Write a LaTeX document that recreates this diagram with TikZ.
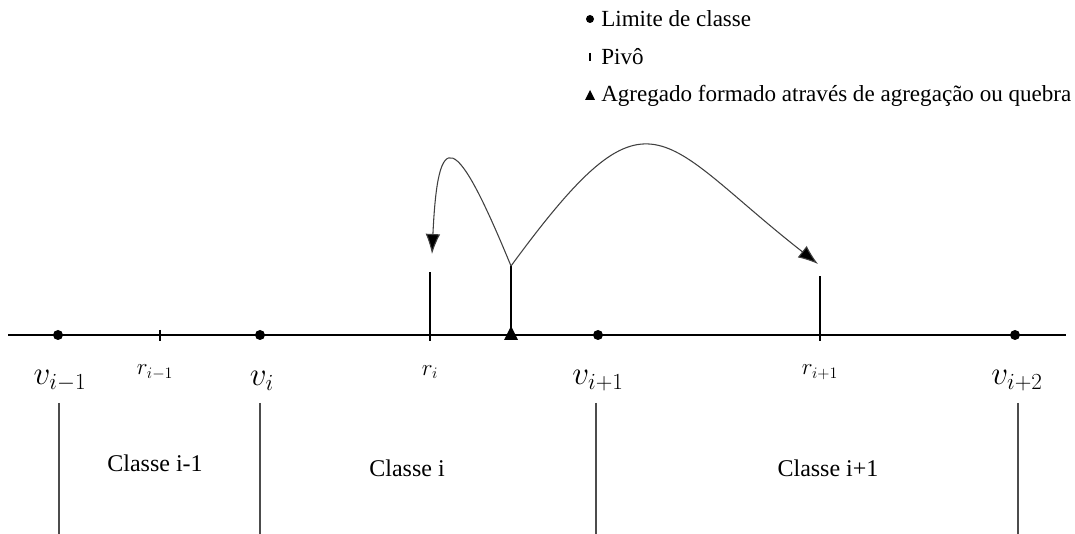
\documentclass[tikz,border=0pt]{standalone}
\usepackage{fontspec}
\setmainfont{Liberation Serif}
\usetikzlibrary{arrows.meta,shapes.geometric}
\begin{document}
\begin{tikzpicture}[x=0.75pt,y=-0.75pt,
  dotm/.style={circle,fill=black,inner sep=0pt,minimum size=7.5pt},
  vlab/.style={font=\rmfamily\fontsize{23}{27}\selectfont,inner sep=0pt},
  rlab/.style={font=\rmfamily\fontsize{18}{21}\selectfont,inner sep=0pt},
  clab/.style={font=\rmfamily\fontsize{18}{22}\selectfont,inner sep=0pt},
  leg/.style={font=\rmfamily\fontsize{17.3}{21}\selectfont,inner sep=0pt,anchor=west},
  thin line/.style={line width=0.8pt},
  jump/.style={line width=0.8pt,draw=black!75,-{Latex[length=15pt,width=11pt,fill=black]}}]
\useasboundingbox (0,0) rectangle (1075,534);
% axis
\coordinate (axL) at (8,335);
\coordinate (axR) at (1066,335);
\draw[line width=1.6pt] (axL) -- (axR);
% class limits
\node[dotm] (v1) at (58,335) {};
\node[dotm] (v2) at (260,335) {};
\node[dotm] (v3) at (598,335) {};
\node[dotm] (v4) at (1015,335) {};
% pivots
\coordinate (r0) at (160,335);
\draw[thin line] (160,330) -- (160,341);
\coordinate (ri) at (430,341);
\coordinate (riT) at (430,272);
\draw[thin line] (ri) -- (riT);
\coordinate (rj) at (820,341);
\coordinate (rjT) at (820,276);
\draw[thin line] (rj) -- (rjT);
% aggregate
\coordinate (agT) at (511,266);
\coordinate (ag) at (511,335);
\draw[thin line] (ag) -- (agT);
\fill ([shift={(0,-9)}]ag) -- ([shift={(-7,5)}]ag) -- ([shift={(7,5)}]ag) -- cycle;
% arrows
\coordinate (tipA) at (432,254);
\coordinate (tipB) at (818,264);
\draw[jump] (agT) .. controls (455,130) and (438,125) .. (tipA);
\draw[jump] (agT) .. controls (651,75) and (657,138) .. (tipB);
% labels
\node[vlab] (lv1) at (60,381) {$v_{i-1}$};
\node[rlab] (lr0) at (155,372) {$r_{i-1}$};
\node[vlab] (lv2) at (262,381) {$v_{i}$};
\node[rlab] (lri) at (430,372) {$r_{i}$};
\node[vlab] (lv3) at (598,381) {$v_{i+1}$};
\node[rlab] (lrj) at (820,372) {$r_{i+1}$};
\node[vlab] (lv4) at (1017,381) {$v_{i+2}$};
% lower dividers
\coordinate (b1t) at (59,403); \coordinate (b1b) at (59,534);
\coordinate (b2t) at (260,403); \coordinate (b2b) at (260,534);
\coordinate (b3t) at (596,403); \coordinate (b3b) at (596,534);
\coordinate (b4t) at (1018,403); \coordinate (b4b) at (1018,534);
\draw[thin line,black!70] (b1t) -- (b1b);
\draw[thin line,black!70] (b2t) -- (b2b);
\draw[thin line,black!70] (b3t) -- (b3b);
\draw[thin line,black!70] (b4t) -- (b4b);
\node[clab] (c1) at (155,463) {Classe i-1};
\node[clab] (c2) at (407,468) {Classe i};
\node[clab] (c3) at (828,468) {Classe i+1};
% legend
\node[dotm,minimum size=6pt] (m1) at (590,19) {};
\node[leg] (t1) at (601,19) {Limite de classe};
\coordinate (m2) at (590,57);
\draw[thin line] (590,53) -- (590,61);
\node[leg] (t2) at (601,57) {Pivô};
\coordinate (m3) at (590,96);
\fill ([shift={(0,-6)}]m3) -- ([shift={(-5,4)}]m3) -- ([shift={(5,4)}]m3) -- cycle;
\node[leg] (t3) at (601,96) {Agregado formado através de agregação ou quebra};
\end{tikzpicture}
\end{document}
